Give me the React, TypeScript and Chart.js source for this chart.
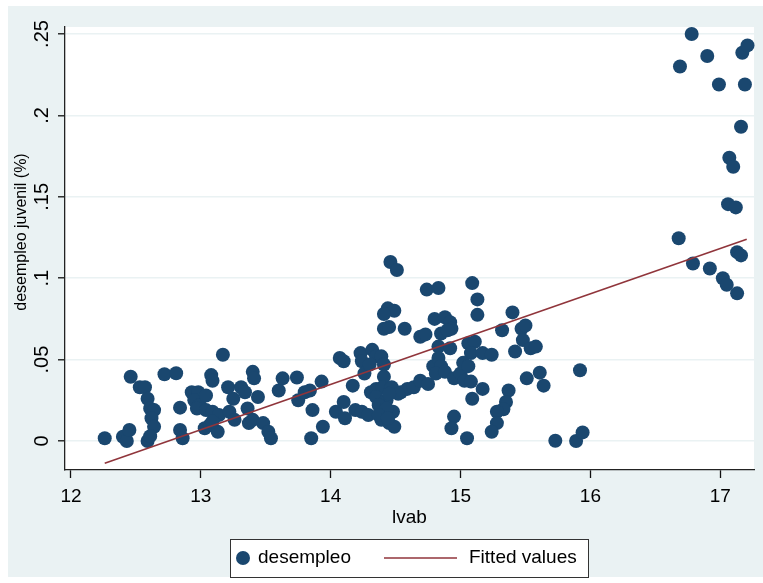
import React, { useEffect, useRef } from "react";
import { Chart, registerables } from "chart.js";

Chart.register(...registerables);

const lvab: number[] = [
  12.26, 12.40, 12.43, 12.45, 12.46, 12.53, 12.57, 12.59, 12.61, 12.64,
  12.62, 12.64, 12.59, 12.61, 12.72, 12.81, 12.84, 12.84, 12.86, 12.93,
  12.98, 12.95, 12.99, 13.04, 12.97, 13.08, 13.09, 13.04, 13.09, 13.14,
  13.03, 13.07, 13.13, 13.09, 13.17, 13.21, 13.22, 13.26, 13.25, 13.31,
  13.34, 13.36, 13.37, 13.40, 13.41, 13.44, 13.40, 13.48, 13.52, 13.54,
  13.60, 13.63, 13.74, 13.75, 13.80, 13.84, 13.86, 13.85, 13.93, 13.94,
  14.07, 14.10, 14.04, 14.10, 14.11, 14.17, 14.19, 14.24, 14.23, 14.24,
  14.29, 14.32, 14.35, 14.26, 14.31, 14.39, 14.45, 14.49, 14.54, 14.59,
  14.48, 14.46, 14.51, 14.74, 14.83, 15.09, 15.13, 15.13, 15.40, 14.44,
  14.49, 14.41, 14.41, 14.45, 14.57, 14.69, 14.73, 14.80, 14.88, 14.92,
  14.93, 14.85, 14.90, 14.83, 14.92, 15.06, 15.11, 15.08, 15.17, 15.24,
  15.32, 15.47, 15.50, 15.48, 15.42, 15.54, 15.58, 14.39, 14.30, 14.41,
  14.41, 14.35, 14.40, 14.47, 14.52, 14.35, 14.43, 14.45, 14.39, 14.41,
  14.37, 14.43, 14.37, 14.44, 14.64, 14.69, 14.75, 14.79, 14.83, 14.85,
  14.81, 14.88, 14.95, 15.00, 15.02, 15.06, 15.03, 15.08, 15.17, 15.09,
  14.95, 14.93, 15.05, 15.37, 15.35, 15.33, 15.28, 15.28, 15.24, 15.51,
  15.61, 15.64, 15.92, 15.73, 15.89, 15.94, 16.78, 16.69, 16.90, 16.99,
  17.19, 17.17, 17.21, 17.16, 17.07, 17.10, 17.06, 17.12, 16.68, 17.13,
  17.16, 16.79, 16.92, 17.02, 17.05, 17.13,
];

const desempleo: number[] = [
  0.0017, 0.0026, 0.0000, 0.0068, 0.0395, 0.0330, 0.0330, 0.0260, 0.0200, 0.0190,
  0.0140, 0.0088, 0.0000, 0.0030, 0.0410, 0.0416, 0.0205, 0.0068, 0.0017, 0.0300,
  0.0300, 0.0250, 0.0220, 0.0280, 0.0200, 0.0405, 0.0370, 0.0190, 0.0180, 0.0160,
  0.0078, 0.0098, 0.0057, 0.0120, 0.0530, 0.0330, 0.0180, 0.0130, 0.0260, 0.0330,
  0.0300, 0.0200, 0.0110, 0.0425, 0.0385, 0.0270, 0.0130, 0.0110, 0.0057, 0.0017,
  0.0310, 0.0385, 0.0390, 0.0250, 0.0300, 0.0310, 0.0190, 0.0017, 0.0365, 0.0088,
  0.0510, 0.0490, 0.0180, 0.0240, 0.0140, 0.0340, 0.0190, 0.0180, 0.0540, 0.0490,
  0.0160, 0.0560, 0.0520, 0.0415, 0.0300, 0.0130, 0.0110, 0.0088, 0.0300, 0.0320,
  0.0180, 0.1100, 0.1050, 0.0930, 0.0940, 0.0970, 0.0870, 0.0775, 0.0790, 0.0815,
  0.0800, 0.0780, 0.0690, 0.0700, 0.0690, 0.0640, 0.0655, 0.0750, 0.0760, 0.0730,
  0.0690, 0.0660, 0.0680, 0.0580, 0.0570, 0.0600, 0.0610, 0.0540, 0.0540, 0.0530,
  0.0680, 0.0690, 0.0710, 0.0620, 0.0550, 0.0570, 0.0580, 0.0520, 0.0470, 0.0470,
  0.0395, 0.0320, 0.0330, 0.0330, 0.0290, 0.0270, 0.0250, 0.0290, 0.0210, 0.0170,
  0.0220, 0.0200, 0.0160, 0.0140, 0.0330, 0.0370, 0.0350, 0.0460, 0.0510, 0.0460,
  0.0415, 0.0425, 0.0385, 0.0415, 0.0480, 0.0460, 0.0370, 0.0365, 0.0320, 0.0260,
  0.0150, 0.0078, 0.0017, 0.0310, 0.0240, 0.0195, 0.0180, 0.0110, 0.0057, 0.0385,
  0.0420, 0.0340, 0.0435, 0.0002, 0.0000, 0.0053, 0.2500, 0.2300, 0.2365, 0.2190,
  0.2190, 0.2385, 0.2430, 0.1930, 0.1740, 0.1685, 0.1455, 0.1435, 0.1245, 0.1160,
  0.1140, 0.1090, 0.1060, 0.1000, 0.0960, 0.0907,
];

const fitX: number[] = [12.26, 17.204];
const fitY: number[] = [-0.0137, 0.1239];

const xTicks: number[] = [12, 13, 14, 15, 16, 17];
const yTicks: number[] = [0, 0.05, 0.1, 0.15, 0.2, 0.25];
const yTickLabels: string[] = ["0", ".05", ".1", ".15", ".2", ".25"];
const seriesLabels: string[] = ["desempleo", "Fitted values"];
const xTitle = "lvab";
const yTitle = "desempleo juvenil (%)";

const FONT = "'Liberation Sans', Arial, Helvetica, sans-serif";
const NAVY = "#1A476F";
const MAROON = "#90353B";
const REGION = "#EAF2F3";

const stataPlugin = {
  id: "stataDecor",
  beforeDraw(chart: any) {
    const { ctx, chartArea: a, width, height } = chart;
    ctx.save();
    ctx.fillStyle = "#ffffff";
    ctx.fillRect(0, 0, width, height);
    ctx.fillStyle = REGION;
    ctx.fillRect(8, 6, width - 8, 571);
    ctx.fillStyle = "#ffffff";
    ctx.fillRect(a.left, a.top, a.right - a.left, a.bottom - a.top);
    ctx.restore();
  },
  afterDraw(chart: any) {
    const { ctx, chartArea: a } = chart;
    const ys = chart.scales.y;
    ctx.save();
    ctx.fillStyle = "#000";
    // y tick labels (vertical)
    ctx.font = `20px ${FONT}`;
    ctx.textAlign = "center";
    ctx.textBaseline = "middle";
    yTicks.forEach((v, i) => {
      const py = ys.getPixelForValue(v);
      ctx.save();
      ctx.translate(42, py);
      ctx.rotate(-Math.PI / 2);
      ctx.fillText(yTickLabels[i], 0, 0);
      ctx.restore();
    });
    // y title
    ctx.font = `16px ${FONT}`;
    ctx.save();
    ctx.translate(22, 232);
    ctx.rotate(-Math.PI / 2);
    ctx.fillText(yTitle, 0, 0);
    ctx.restore();
    // x title
    ctx.font = `19px ${FONT}`;
    ctx.textBaseline = "alphabetic";
    ctx.fillText(xTitle, (a.left + a.right) / 2, 523);

    // legend
    const lx = 230, ly = 539, lw = 358, lh = 38;
    const cy = ly + lh / 2;
    ctx.fillStyle = "#ffffff";
    ctx.fillRect(lx, ly, lw, lh);
    ctx.strokeStyle = "#333";
    ctx.lineWidth = 1;
    ctx.strokeRect(lx + 0.5, ly + 0.5, lw, lh);
    ctx.fillStyle = NAVY;
    ctx.beginPath();
    ctx.arc(243, cy, 7, 0, Math.PI * 2);
    ctx.fill();
    ctx.strokeStyle = MAROON;
    ctx.lineWidth = 1.6;
    ctx.beginPath();
    ctx.moveTo(384, cy);
    ctx.lineTo(457, cy);
    ctx.stroke();
    ctx.fillStyle = "#000";
    ctx.font = `19px ${FONT}`;
    ctx.textAlign = "left";
    ctx.textBaseline = "middle";
    ctx.fillText(seriesLabels[0], 258, cy);
    ctx.fillText(seriesLabels[1], 469, cy);
    ctx.restore();
  },
};

export default function App() {
  const ref = useRef<HTMLCanvasElement | null>(null);

  useEffect(() => {
    if (!ref.current) return;
    const scatterData = lvab.map((x, i) => ({ x, y: desempleo[i] }));
    const fitData = fitX.map((x, i) => ({ x, y: fitY[i] }));
    const chart = new Chart(ref.current, {
      type: "scatter",
      data: {
        datasets: [
          {
            label: seriesLabels[0],
            data: scatterData,
            backgroundColor: NAVY,
            borderWidth: 0,
            pointRadius: 7,
            pointHoverRadius: 7,
            order: 2,
            clip: false as any,
          },
          {
            type: "line" as any,
            label: seriesLabels[1],
            data: fitData,
            borderColor: MAROON,
            borderWidth: 1.6,
            pointRadius: 0,
            showLine: true,
            fill: false,
            order: 1,
          } as any,
        ],
      },
      options: {
        responsive: false,
        animation: false,
        layout: { padding: { top: 27, right: 9, left: 0, bottom: 0 } },
        plugins: {
          legend: { display: false },
          tooltip: { enabled: false },
          title: { display: false },
        },
        events: [],
        scales: {
          x: {
            type: "linear",
            min: 11.954,
            max: 17.26,
            afterBuildTicks: (s: any) => {
              s.ticks = xTicks.map((v) => ({ value: v }));
            },
            afterFit: (s: any) => {
              s.height = 113;
            },
            ticks: {
              font: { family: FONT, size: 19 },
              color: "#000",
              padding: 7,
              maxRotation: 0,
              callback: (v: any) => String(v),
            },
            grid: {
              drawOnChartArea: false,
              tickLength: 8,
              tickColor: "#111",
              tickWidth: 1.3,
            },
            border: { color: "#222", width: 1.3 },
          },
          y: {
            type: "linear",
            min: -0.0178,
            max: 0.2543,
            afterBuildTicks: (s: any) => {
              s.ticks = yTicks.map((v) => ({ value: v }));
            },
            afterFit: (s: any) => {
              s.width = 65;
            },
            ticks: { display: false },
            grid: {
              color: REGION,
              lineWidth: 1.6,
              tickLength: 7,
              tickColor: "#111",
              tickWidth: 1.3,
            },
            border: { color: "#222", width: 1.3 },
          },
        },
      },
      plugins: [stataPlugin],
    });
    return () => chart.destroy();
  }, []);

  return (
    <div
      style={{
        position: "fixed",
        left: 0,
        top: 0,
        width: 763,
        height: 583,
        background: "#fff",
      }}
    >
      <canvas ref={ref} width={763} height={583} style={{ width: 763, height: 583, display: "block" }} />
    </div>
  );
}
